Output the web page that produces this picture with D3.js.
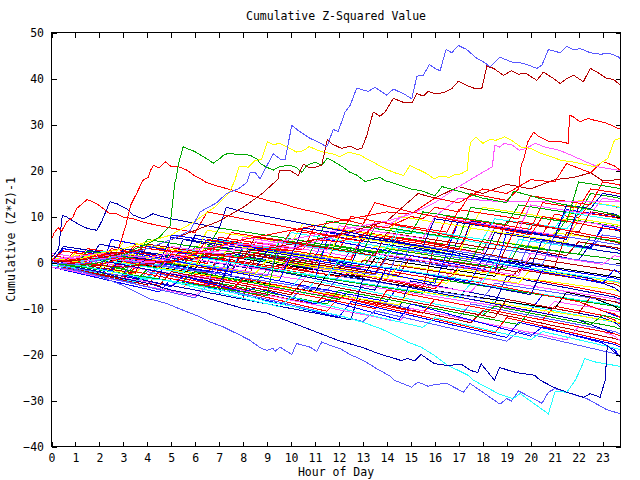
<!DOCTYPE html>
<html><head><meta charset="utf-8">
<script src="https://cdn.jsdelivr.net/npm/d3@7"></script>
<style>
body{margin:0;background:#fff}
svg{display:block}
text{font-family:"DejaVu Sans Mono",monospace;font-size:11.5px;fill:#000}
</style>
</head><body>
<svg id="chart" width="640" height="480"></svg>
<script>
const title = "Cumulative Z-Squared Value";
const xLabel = "Hour of Day";
const yLabel = "Cumulative (Z*Z)-1";
const xTicks = [0,1,2,3,4,5,6,7,8,9,10,11,12,13,14,15,16,17,18,19,20,21,22,23];
const yTicks = [-40,-30,-20,-10,0,10,20,30,40,50];
const halfHours = [0,0.5,1,1.5,2,2.5,3,3.5,4,4.5,5,5.5,6,6.5,7,7.5,8,8.5,9,9.5,10,10.5,11,11.5,12,12.5,13,13.5,14,14.5,15,15.5,16,16.5,17,17.5,18,18.5,19,19.5,20,20.5,21,21.5,22,22.5,23,23.5,23.75];

// half-hourly series (values read/estimated from the picture)
const m01 = [1,0.6,0.2,1.5,1.1,0.7,0.3,-0.2,-0.6,-1, 2.5,2.1,1.6,1.2,0.8,0.3,-0.1,-0.5,-1,-1.4, -1.9,-2.3,0.8,0.4,0,-0.5,-0.9,-1.3,-1.8,-2.2, -2.7,-3.1,-3.6,-4,-1,-1.4,-1.9,-2.3,-2.8,-3.2, -3.7,-4.1,-4.6,-5,-5.5,-6,-6.5,-7,-7.5];
const m02 = [0,-0.4,-0.8,-1.2,2,1.6,1.2,0.8,0.4,0, -0.4,-0.8,3.5,3.1,2.7,2.3,1.9,1.5,1.1,0.7, 0.3,-0.1,-0.5,4,3.6,3.2,2.8,2.4,2,5.5, 5.1,4.7,4.3,3.9,3.5,3.1,2.7,7.5,7.1,6.7, 6.3,5.9,5.5,9.5,9.1,8.7,8.3,7.9,7.6];
const m03 = [-0.5,-1,-1.5,-2,-2.5,-1,-1.5,-2,-2.5,-3, -3.5,-4,-4.5,-5,-1.5,-2,-2.5,-3,-3.5,-4, -4.5,-5,-5.5,-6,-6.5,-7,-7.5,-8,-8.5,-5, -5.5,-6,-6.5,-7,-7.5,-8,-8.5,-9,-9.5,-10, -10.5,-7,-7.5,-8,-8.5,-9.5,-10.5,-11.5,-12];
const m04 = [1,0.7,0.3,0,-0.4,-0.8,-1.1,2.5,2.1,1.8, 1.4,1,0.6,0.3,-0.1,-0.5,-0.9,-1.2,-1.6,-2, 1.8,1.4,1,0.7,0.3,-0.1,-0.5,-0.8,-1.2,-1.6, -2,-2.3,-2.7,-3,0.5,0.1,-0.3,-0.6,-1,-1.4, -1.8,-2.1,-2.5,-2.8,-3.2,-3.5,-3.9,-4.2,-4.4];
const m05 = [0.5,0,-0.5,-1,-1.5,-2,-2.5,-3,-3.5,-1, -1.5,-2,-2.5,-3,-3.5,-4,-4.5,-5,-5.5,-6, -6.5,-7,-4,-4.5,-5,-5.5,-6,-6.5,-7,-7.5, -8,-8.5,-9,-9.5,-10,-10.5,-11,-8,-8.5,-9, -9.5,-10,-10.5,-11,-11.5,-12,-12.5,-13,-13.5];
const m06 = [-0.5,-0.8,1.5,1.2,0.8,0.5,0.1,-0.2,-0.6,2.2, 1.9,1.5,1.2,0.8,0.5,4,3.6,3.3,2.9,2.6, 2.2,1.9,1.5,1.2,0.8,0.5,0.1,3.5,3.2,2.8, 2.5,2.1,1.8,1.4,1.1,0.7,5,4.6,4.3,3.9, 3.6,3.2,6.5,6.1,5.8,5.4,5.1,4.7,4.5];
const m07 = [0,-0.4,-0.8,-1.2,-1.6,-2,0.5,0.1,-0.3,-0.7, -1.1,-1.5,-1.9,-2.3,1,0.6,0.2,-0.2,-0.6,-1, -1.4,-1.8,-2.2,-2.6,-3,-3.4,0.5,0.1,-0.3,-0.7, -1.1,-1.5,-1.9,-2.3,-2.7,-3.1,-3.5,-3.9,-4.3,-1.5, -1.9,-2.3,-2.7,-3.1,-3.5,-3.9,-4.3,-4.7,-5.2];
const m08 = [0,-0.5,-1,2.5,2,1.5,1,0.5,0,-0.5, -1,5,4.5,4,3.5,3,2.5,2,1.5,1, 0.5,0,-0.5,-1,-1.5,3,2.5,2,1.5,1, 0.5,0,-0.5,-1,5.5,5,4.5,4,3.5,3, 2.5,2,1.5,1,0.5,4,3.5,3,2.5];
const m09 = [-1,-1.5,-2,-2.5,-3,-3.5,-4,-4.5,-2,-2.5, -3,-3.5,-4,-4.5,-5,-5.5,-6,-6.5,-7,-7.5, -8,-5.5,-6,-6.5,-7,-7.5,-8,-8.5,-9,-9.5, -10,-10.5,-11,-11.5,-12,-9,-9.5,-10,-10.5,-11, -11.5,-12,-12.5,-13,-13.5,-14,-14.5,-15,-15.5];
const m10 = [0.5,0.1,-0.3,-0.7,-1.1,1.5,1.1,0.7,0.3,-0.1, -0.5,-0.9,-1.3,2,1.6,1.2,0.8,0.4,0,-0.4, -0.8,-1.2,-1.6,-2,-2.4,-2.8,-3.2,1,0.6,0.2, -0.2,-0.6,-1,-1.4,-1.8,-2.2,-2.6,-3,0.5,0.1, -0.3,-0.7,-1.1,-1.5,-1.9,-2.3,-2.7,-3.1,-3.4];
const m11 = [1.5,1.1,0.7,3,2.6,2.2,1.8,1.4,5,4.6, 4.2,3.8,3.4,3,2.6,6.5,6.1,5.7,5.3,4.9, 4.5,4.1,3.7,3.3,2.9,7,6.6,6.2,5.8,5.4, 5,4.6,4.2,3.8,9,8.6,8.2,7.8,7.4,7, 6.6,6.2,10.5,10.1,9.7,13,12.6,12.2,11.8];
const m12 = [-0.5,-1,-1.4,-1.8,-2.2,-2.6,-3,-0.5,-0.9,-1.3, -1.7,-2.1,-2.5,-2.9,-3.3,-3.7,-4.1,-4.5,-1.5,-1.9, -2.3,-2.7,-3.1,-3.5,-3.9,-4.3,-4.7,-5.1,-5.5,-5.9, -6.3,-6.7,-3.5,-3.9,-4.3,-4.7,-5.1,-5.5,-5.9,-6.3, -6.7,-7.1,-7.5,-7.9,-8.3,-8.7,-9.1,-9.5,-9.8];
const m13 = [0,-0.4,-0.8,-1.2,-1.6,-2,-2.4,-2.8,-3.2,-3.6, 6,5.6,5.2,4.8,4.4,4,3.6,3.2,2.8,2.4, 2,1.6,1.2,6.5,6.1,5.7,5.3,4.9,4.5,4.1, 3.7,3.3,2.9,2.5,9,8.6,8.2,7.8,7.4,7, 6.6,6.2,5.8,11.5,11.1,10.7,10.3,9.9,9.6];
const m14 = [-1,-1.4,-1.8,-2.2,-2.6,-3,-3.4,-3.8,-4.2,-4.6, -5,-2.5,-2.9,-3.3,-3.7,-4.1,-4.5,-4.9,-5.3,-5.7, -6.1,-6.5,-6.9,-7.3,-7.7,-8.1,-5,-5.4,-5.8,-6.2, -6.6,-7,-7.4,-7.8,-8.2,-8.6,-9,-9.4,-9.8,-10.2, -10.6,-11,-8.5,-8.9,-9.3,-9.7,-10.1,-10.5,-10.8];
const m15 = [0.5,0.2,-0.2,-0.5,2.5,2.2,1.8,1.5,1.1,0.8, 0.4,0.1,-0.3,-0.6,-1,-1.3,3,2.7,2.3,2, 1.6,1.3,0.9,0.6,0.2,-0.1,-0.5,-0.8,3.5,3.2, 2.8,2.5,2.1,1.8,1.4,1.1,0.7,0.4,0,5, 4.6,4.3,3.9,3.6,3.2,2.9,2.5,2.2,1.9];
const m16 = [0,-0.3,-0.7,-1,-1.4,-1.7,-2.1,-2.4,0.5,0.2, -0.2,-0.5,-0.9,-1.2,-1.6,-1.9,-2.3,-2.6,-3,-3.3, 0,-0.3,-0.7,-1,-1.4,-1.7,-2.1,-2.4,-2.8,-3.1, -3.5,-3.8,-4.2,-4.5,-1.5,-1.8,-2.2,-2.5,-2.9,-3.2, -3.6,-3.9,-4.3,-4.6,-5,-5.3,-5.7,-6,-6.3];
const m17 = [-0.5,-1,-1.6,-2.1,-2.7,-3.2,-3.8,-4.3,-4.9,-2, -2.5,-3.1,-3.6,-4.2,-4.7,-5.3,-5.8,-6.4,-6.9,-7.5, -8,-8.6,-9.1,-6.5,-7,-7.6,-8.1,-8.7,-9.2,-9.8, -10.3,-10.9,-11.4,-12,-12.5,-13.1,-10.5,-11,-11.6,-12.1, -12.7,-13.2,-13.8,-14.3,-14.9,-15.4,-16,-16.5,-17];
const m18 = [0,-0.5,-1,-1.5,-2,-2.5,-3,-3.5,-4,-4.5, -5,-5.5,-6,-6.5,-7,2,1.5,1,0.5,0, -0.5,-1,-1.5,-2,-2.5,-3,-3.5,-4,-4.5,-5, -5.5,-6,-6.5,-7,-7.5,-8,-8.5,-9,-3,-3.5, -4,-4.5,-5,-5.5,-6,-6.5,-7,-7.5,-8];
const m19 = [-1,-1.3,-1.7,-2,1,0.7,0.3,0,-0.4,-0.7, -1.1,-1.4,-1.8,-2.1,-2.5,1.5,1.2,0.8,0.5,0.1, -0.2,-0.6,-0.9,-1.3,-1.6,-2,-2.3,-2.7,1,0.7, 0.3,0,-0.4,-0.7,-1.1,-1.4,-1.8,3,2.7,2.3, 2,1.6,1.3,0.9,0.6,0.2,-0.1,-0.5,-0.7];
const m20 = [0.5,0.1,2.5,2.1,1.7,1.3,0.9,4,3.6,3.2, 2.8,2.4,2,1.6,5.5,5.1,4.7,4.3,3.9,3.5, 3.1,2.7,8,7.6,7.2,6.8,6.4,6,5.6,5.2, 4.8,4.4,4,10,9.6,9.2,8.8,8.4,8,7.6, 7.2,13,12.6,12.2,11.8,16,15.6,15.2,14.9];
const m21 = [0,-0.5,-1,-1.5,-2,-2.5,-3,-3.5,-4,-4.5, -5,-5.5,-2.5,-3,-3.5,-4,-4.5,-5,-5.5,-6, -6.5,-7,-7.5,-8,-8.5,-9,-9.5,-10,-6,-6.5, -7,-7.5,-8,-8.5,-9,-9.5,-10,-10.5,-11,-11.5, -12,-12.5,-9.5,-10,-10.5,-11,-11.5,-12.5,-13.5];
const m22 = [0,-0.3,-0.7,-1,-1.4,1.5,1.2,0.8,0.5,0.1, -0.2,-0.6,-0.9,3.5,3.2,2.8,2.5,2.1,1.8,1.4, 1.1,0.7,0.4,0,-0.3,-0.7,-1,2.5,2.2,1.8, 1.5,1.1,0.8,0.4,0.1,-0.3,-0.6,-1,-1.3,3.5, 3.2,2.8,2.5,2.1,1.8,1.4,1.1,0.7,0.5];
const m23 = [-1,-1.6,-2.2,-2.8,-3.4,-4,-4.6,-5.2,-5.8,-6.4, -3.5,-4.1,-4.7,-5.3,-5.9,-6.5,-7.1,-7.7,-8.3,-8.9, -9.5,-10.1,-10.7,-11.3,-11.9,-8.5,-9.1,-9.7,-10.3,-10.9, -11.5,-12.1,-12.7,-13.3,-13.9,-14.5,-15.1,-15.7,-16.3,-13, -13.6,-14.2,-14.8,-15.4,-16,-16.6,-17.2,-17.8,-18.4];
const m24 = [2,1.6,1.2,0.8,0.4,0,3,2.6,2.2,1.8, 1.4,1,0.6,0.2,-0.2,-0.6,-1,4.5,4.1,3.7, 3.3,2.9,2.5,2.1,1.7,1.3,6,5.6,5.2,4.8, 4.4,4,3.6,3.2,2.8,2.4,2,8,7.6,7.2, 6.8,6.4,6,5.6,9,8.6,8.2,7.8,7.5];
const m25 = [-0.5,-0.9,-1.3,-1.7,-2.1,-2.5,-2.9,-3.3,-3.7,-1, -1.4,-1.8,-2.2,-2.6,-3,-3.4,-3.8,-4.2,-4.6,-5, -5.4,-2.5,-2.9,-3.3,-3.7,-4.1,-4.5,-4.9,-5.3,-5.7, -6.1,-6.5,-6.9,-7.3,-7.7,-4.5,-4.9,-5.3,-5.7,-6.1, -6.5,-6.9,-7.3,-7.7,-8.1,-8.5,-8.9,-9.3,-9.6];
const m26 = [0,-0.4,2,1.6,1.2,0.8,4.5,4.1,3.7,3.3, 2.9,2.5,2.1,7,6.6,6.2,5.8,5.4,5,4.6, 4.2,8.5,8.1,7.7,7.3,6.9,6.5,6.1,5.7,10, 9.6,9.2,8.8,8.4,8,7.6,12,11.6,11.2,10.8, 10.4,10,9.6,9.2,13.5,13.1,12.7,12.3,12];
const m27 = [0.5,0.1,-0.3,-0.7,-1.1,-1.5,1.5,1.1,0.7,0.3, -0.1,-0.5,-0.9,-1.3,-1.7,-2.1,-2.5,2,1.6,1.2, 0.8,0.4,0,-0.4,-0.8,-1.2,-1.6,-2,-2.4,-2.8, 1.5,1.1,0.7,0.3,-0.1,-0.5,-0.9,-1.3,-1.7,-2.1, 1,0.6,0.2,-0.2,-0.6,-1,-1.4,-1.8,-2.1];
const m28 = [0.5,0,-0.5,-1,-1.5,-2,-2.5,1,0.5,0, -0.5,-1,-1.5,-2,-2.5,-3,-3.5,-4,-4.5,-5, -5.5,-6,-6.5,-7,-7.5,-8,-8.5,-9,-9.5,-10, -4,-4.5,-5,-5.5,-6,-6.5,-7,-7.5,-8,-8.5, -9,-9.5,-10,-10.5,-11,-11.5,-12,-13,-14];
const m29 = [0,-0.4,-0.8,-1.2,-1.6,-2,-2.4,-2.8,-3.2,-3.6, -4,-4.4,-4.8,-5.2,2,1.6,1.2,0.8,0.4,0, -0.4,-0.8,-1.2,-1.6,-2,-2.4,-2.8,-3.2,-3.6,3, 2.6,2.2,1.8,1.4,1,0.6,0.2,-0.2,-0.6,-1, 5,4.6,4.2,3.8,3.4,3,6,5.6,5.3];
const m30 = [-0.5,-1,-1.4,-1.8,-2.2,0.5,0.1,-0.3,-0.7,-1.1, -1.5,-1.9,-2.3,-2.7,-3.1,-3.5,-3.9,-4.3,-4.7,-5.1, -5.5,-5.9,-6.3,-2.5,-2.9,-3.3,-3.7,-4.1,-4.5,-4.9, -5.3,-5.7,-6.1,-6.5,-6.9,-7.3,-7.7,-8.1,-8.5,-8.9, -9.3,-9.7,-10.1,-6.5,-7,-7.5,-8.5,-9.5,-10.5];
const m31 = [1,0.6,0.2,-0.2,-0.6,3,2.6,2.2,1.8,1.4, 1,0.6,0.2,-0.2,5,4.6,4.2,3.8,3.4,3, 2.6,2.2,1.8,1.4,1,0.6,6,5.6,5.2,4.8, 4.4,4,3.6,3.2,2.8,8.5,8.1,7.7,7.3,6.9, 6.5,6.1,5.7,5.3,11,10.6,10.2,9.8,9.5];
const m32 = [-0.5,-1,-1.5,-2,-2.5,-3,-3.5,-4,-1.5,-2, -2.5,-3,-3.5,-4,-4.5,-5,-5.5,-6,-6.5,-7, -7.5,-8,-8.5,-9,-6,-6.5,-7,-7.5,-8,-8.5, -9,-9.5,-10,-10.5,-11,-11.5,-12,-12.5,-13,-13.5, -10.5,-11,-11.5,-12,-12.5,-13,-13.5,-14,-14.5];
const m33 = [0,3,2.6,2.2,1.8,1.4,1,0.6,0.2,-0.2, -0.6,-1,-1.4,-1.8,-2.2,-2.6,3.5,3.1,2.7,2.3, 1.9,1.5,1.1,0.7,0.3,-0.1,-0.5,-0.9,-1.3,-1.7, -2.1,-2.5,-2.9,-3.3,-3.7,-4.1,1,0.6,0.2,-0.2, -0.6,-1,-1.4,-1.8,-2.2,-2.6,-3,-3.4,-3.8];
const m34 = [-1,-1.5,-2,-2.6,-3.1,-3.6,-4.1,-4.7,-5.2,-5.7, -6.2,-6.8,-7.3,-4.5,-5,-5.5,-6.1,-6.6,-7.1,-7.6, -8.2,-8.7,-9.2,-9.7,-10.3,-10.8,-11.3,-11.8,-12.4,-12.9, -10,-10.5,-11,-11.5,-12.1,-12.6,-13.1,-13.6,-14.2,-14.7, -15.2,-15.7,-16.3,-16.8,-14,-14.5,-15,-16,-17];
const m35 = [0,-0.4,-0.8,-1.2,1.5,1.1,0.7,0.3,-0.1,-0.5, -0.9,3,2.6,2.2,1.8,1.4,1,0.6,0.2,4.5, 4.1,3.7,3.3,2.9,2.5,2.1,1.7,1.3,0.9,7, 6.6,6.2,5.8,5.4,5,4.6,4.2,3.8,3.4,3, 8.5,8.1,7.7,7.3,10.5,10.1,9.7,9.3,9];
const m36 = [-0.5,-0.9,-1.3,-1.7,-2.1,-2.5,0,-0.4,-0.8,-1.2, -1.6,-2,-2.4,-2.8,-3.2,-3.6,-4,-4.4,-4.8,-5.2, -5.6,-6,-6.4,-6.8,-7.2,-7.6,-8,-8.4,-8.8,-9.2, -6,-6.4,-6.8,-7.2,-7.6,-8,-8.4,-8.8,-9.2,-9.6, -10,-10.4,-10.8,-11.2,-11.6,-12,-12.4,-12.8,-13.1];
const m37 = [0,-0.5,-1,-1.5,-2,-2.5,-3,-3.5,-4,-4.5, -5,-5.5,-6,-6.5,-7,-7.5,-8,1.5,1,0.5, 0,-0.5,-1,-1.5,-2,-2.5,-3,-3.5,-4,-4.5, -5,-5.5,4,3.5,3,2.5,2,1.5,1,0.5, 0,-0.5,-1,6.5,6,5.5,5,4.5,4];
const m38 = [1,0.5,0,-0.5,4,3.5,3,2.5,2,1.5, 1,0.5,6,5.5,5,4.5,4,3.5,3,2.5, 2,1.5,1,0.5,0,-0.5,5.5,5,4.5,4, 3.5,3,2.5,2,1.5,9,8.5,8,7.5,7, 6.5,6,5.5,5,12,11.5,11,10.5,10];
const m39 = [0,-0.4,-0.8,-1.2,-1.6,-2,-2.4,-2.8,-3.2,-0.5, -0.9,-1.3,-1.7,-2.1,-2.5,-2.9,-3.3,-3.7,-4.1,-4.5, -4.9,-5.3,-5.7,-6.1,-3,-3.4,-3.8,-4.2,-4.6,-5, -5.4,-5.8,-6.2,-6.6,-7,-7.4,-7.8,-4.5,-4.9,-5.3, -5.7,-6.1,-6.5,-6.9,-7.3,-7.7,-8.1,-8.5,-8.7];
const m40 = [0.5,0.1,-0.3,2.5,2.1,1.7,1.3,0.9,5,4.6, 4.2,3.8,3.4,3,7.5,7.1,6.7,6.3,5.9,5.5, 5.1,4.7,4.3,9,8.6,8.2,7.8,7.4,7,6.6, 6.2,11,10.6,10.2,9.8,9.4,9,8.6,8.2,12.5, 12.1,11.7,11.3,10.9,10.5,15,14.6,14.2,13.9];
const m41 = [0,-0.6,-1.2,-1.8,-2.4,-3,-3.6,-1,-1.6,-2.2, -2.8,-3.4,-4,-4.6,-5.2,-5.8,-6.4,-7,-7.6,-8.2, -8.8,-9.4,-10,-10.6,-7.5,-8.1,-8.7,-9.3,-9.9,-10.5, -11.1,-11.7,-12.3,-12.9,-13.5,-14.1,-14.7,-15.3,-12,-12.6, -13.2,-13.8,-14.4,-15,-15.6,-16.2,-16.8,-17.4,-18];
const m42 = [0,-0.4,-0.8,-1.2,-1.6,-2,3,2.6,2.2,1.8, 1.4,1,0.6,0.2,-0.2,-0.6,-1,-1.4,2.5,2.1, 1.7,1.3,0.9,0.5,5.5,5.1,4.7,4.3,3.9,3.5, 3.1,2.7,2.3,1.9,1.5,1.1,0.7,6.5,6.1,5.7, 5.3,4.9,4.5,4.1,3.7,3.3,7.5,7.1,6.8];
const m43 = [0,-0.7,-1.3,-2,-1.2,-1.9,-2.6,-3.3,-4,-4.6, -5.3,-3,-3.7,-4.4,-5,-5.7,-6.4,-5.5,-6.2,-6.9, -7.6,-8.3,-9,-8.2,-8.9,-9.6,-10.3,-11,-11.7,-12.4, -9,-9.7,-10.4,-11.1,-11.8,-12.5,-13.2,-13.9,-14.6,-15.3, -16,-14,-14.7,-15.4,-16.1,-16.8,-17.5,-19,-20.5];
const m44 = [0.5,0,0.6,0.1,-0.4,-0.9,0.2,-0.3,-0.8,-1.3, 1.8,1.3,0.8,1.2,0.7,0.2,-0.3,-0.8,-1.3,-0.6, -1.1,-1.6,-2.1,-2.6,-3.1,-2.2,-2.7,-3.2,-3.7,-4.2, -4.7,-5.2,-5.7,-3,-3.5,-4,-4.5,-5,-5.5,-6, -6.5,-7,-7.5,-8,-8.5,-9.5,-10.5,-11.2,-12];
const m45 = [0,-0.4,0.3,-0.1,-0.5,-0.9,-1.3,-0.5,-0.9,-1.3, 2.5,2.1,1.7,1.3,0.9,1.6,1.2,0.8,0.4,0, -0.4,-0.8,4.2,3.8,3.4,3,2.6,2.2,3,2.6, 2.2,1.8,1.4,1,0.6,0.2,5,4.6,4.2,3.8, 3.4,3,2.6,2.2,1.8,5.5,5.1,4.7,4.3];
const m46 = [0.5,1.2,0.8,0.4,0,-0.4,-0.8,-1.2,-1.6,-2, -2.4,-2.8,-3.2,-3.6,-1,-1.4,-1.8,-2.2,-2.6,-3, -3.4,-3.8,-1.2,-1.6,-2,-2.4,-2.8,-3.2,-3.6,-4, -4.4,-4.8,-5.2,-5.6,-6,-6.4,-3.5,-3.9,-4.3,-4.7, -5.1,-5.5,-5.9,-6.3,-6.7,-7.1,-7.5,-7.9,-8.2];
const m47 = [0,-0.4,-0.8,1.5,1.1,0.7,0.3,3.5,3.1,2.7, 2.3,1.9,1.5,1.1,4.8,4.4,4,3.6,3.2,2.8, 6.5,6.1,5.7,5.3,4.9,4.5,4.1,3.7,3.3,7.8, 7.4,7,6.6,6.2,5.8,5.4,5,9.5,9.1,8.7, 8.3,7.9,7.5,11,10.6,13,12.6,12.2,11.9];
const m48 = [0,-0.5,-1,-1.5,-2,-2.5,-3,-3.5,-4,-4.5, -5,-5.5,-6,-6.5,-7,-7.5,-8,-8.5,-9,-9.5, -10,-10.5,-11,-11.5,-12,-12.5,-3.5,-4,-4.5,-5, -5.5,-6,-6.5,-7,-7.5,-8,-8.5,-9,-9.5,-10, -10.5,-11,-11.5,-12,-12.5,-13.5,-14.5,-15.5,-16];
const m49 = [0,0.5,0.1,-0.3,-0.7,2.3,1.9,1.5,1.1,0.7, 0.3,-0.1,-0.5,-0.9,-1.3,-1.7,2,1.6,1.2,0.8, 0.4,0,-0.4,-0.8,-1.2,-1.6,-2,-2.4,1.5,1.1, 0.7,0.3,-0.1,-0.5,-0.9,-1.3,-1.7,-2.1,3.5,3.1, 2.7,2.3,1.9,1.5,4.5,4.1,3.7,3.3,3];
const m50 = [1,0.6,0.2,-0.2,-0.6,-1,2,1.6,1.2,0.8, 0.4,0,-0.4,-0.8,-1.2,-1.6,-2,-2.4,0.5,0.1, -0.3,-0.7,-1.1,-1.5,-1.9,-2.3,-2.7,-3.1,-3.5,-0.5, -0.9,-1.3,-1.7,-2.1,-2.5,-2.9,-3.3,-3.7,-4.1,-4.5, -1.5,-1.9,-2.3,-2.7,-3.1,-3.5,-3.9,-4.3,-4.6];
const m51 = [-0.5,-1.1,-1.7,-2.3,-2.9,-3.5,-4.1,-4.7,-5.3,-5.9, -6.5,-7.1,-7.7,-5,-5.6,-6.2,-6.8,-7.4,-8,-8.6, -9.2,-9.8,-10.4,-11,-11.6,-12.2,-12.8,-10.5,-11.1,-11.7, -12.3,-12.9,-13.5,-14.1,-14.7,-15.3,-15.9,-16.5,-17.1,-15, -15.6,-16.2,-16.8,-17.4,-18,-18.6,-19.2,-19.8,-20.2];
const m52 = [0.5,2.5,2.1,1.7,1.3,0.9,0.5,3.5,3.1,2.7, 2.3,1.9,1.5,5,4.6,4.2,3.8,3.4,3,2.6, 7,6.6,6.2,5.8,5.4,5,4.6,9,8.6,8.2, 7.8,7.4,7,6.6,11.5,11.1,10.7,10.3,9.9,9.5, 14.5,14.1,13.7,13.3,12.9,12.5,17.5,17.1,16.8];
const m53 = [0,-0.5,-1,-1.5,-0.5,-1,-1.5,-2,-2.5,-3, -3.5,-4,-2,-2.5,-3,-3.5,-4,-4.5,-5,-5.5, -6,-6.5,-7,-7.5,-8,-6,-6.5,-7,-7.5,-8, -8.5,-9,-9.5,-10,-10.5,-11,-11.5,-9.5,-10,-10.5, -11,-11.5,-12,-12.5,-13,-13.5,-11.5,-12,-12.5];
const m54 = [0,-0.5,-1,-1.5,-2,5,4.5,4,3.5,3, 2.5,2,1.5,1,0.5,0,-0.5,-1,-1.5,-2, -2.5,-3,-3.5,5,4.5,4,3.5,3,2.5,2, 1.5,1,0.5,0,-0.5,-1,-1.5,-2,6.5,6, 5.5,5,4.5,4,3.5,3,8,7.5,7];
const m55 = [0,-0.4,-0.8,1,0.6,0.2,-0.2,-0.6,-1,-1.4, 1.5,1.1,0.7,0.3,-0.1,-0.5,-0.9,-1.3,-1.7,-2.1, 1.2,0.8,0.4,0,-0.4,-0.8,-1.2,2,1.6,1.2, 0.8,0.4,0,-0.4,-0.8,-1.2,-1.6,-2,-2.4,-2.8, 2,1.6,1.2,0.8,0.4,0,-0.4,1.5,1.2];
const m56 = [0,-0.6,-1.2,-1.8,-2.4,-3,-3.6,-4.2,-3,-3.6, -4.2,-4.8,-5.4,-6,-6.6,-7.2,-7.8,-8.4,-9,-9.6, -7.5,-8.1,-8.7,-9.3,-9.9,-10.5,-11.1,-11.7,-12.3,-12.9, -13.5,-14.1,-12,-12.6,-13.2,-13.8,-14.4,-15,-15.6,-16.2, -16.8,-15,-15.6,-16.2,-16.8,-17.4,-18,-18.6,-19];
const m57 = [0.5,0.1,-0.3,-0.7,-1.1,-1.5,-1.9,-2.3,4,3.6, 3.2,2.8,2.4,2,1.6,1.2,0.8,5.5,5.1,4.7, 4.3,3.9,3.5,3.1,2.7,2.3,1.9,1.5,6.5,6.1, 5.7,5.3,4.9,4.5,4.1,3.7,3.3,2.9,9,8.6, 8.2,7.8,7.4,7,6.6,11,10.6,10.2,9.9];
const m58 = [-0.5,-1,-1.5,1,0.5,0,-0.5,-1,-1.5,-2, -2.5,-3,-3.5,-4,-4.5,0,-0.5,-1,-1.5,-2, -2.5,-3,-3.5,-4,-4.5,-5,-5.5,-6,-1,-1.5, -2,-2.5,-3,-3.5,-4,-4.5,-5,-5.5,-6,-6.5, -7,-1.5,-2,-2.5,-3,-3.5,-4.5,-5.5,-6.5];
const m59 = [0,-0.4,-0.8,-1.2,-1.6,2,1.6,1.2,0.8,0.4, 0,-0.4,-0.8,4.5,4.1,3.7,3.3,2.9,2.5,2.1, 1.7,1.3,0.9,0.5,6,5.6,5.2,4.8,4.4,4, 3.6,3.2,2.8,2.4,2,7.5,7.1,6.7,6.3,5.9, 5.5,5.1,4.7,4.3,9.5,9.1,8.7,8.3,8];
const m60 = [0,-0.5,-1,-1.5,-2,-2.5,-3,-2,-2.5,-3, -3.5,-4,-4.5,-5,-5.5,-6,-3.5,-4,-4.5,-5, -5.5,-6,-6.5,-7,-7.5,-8,-8.5,-9,-9.5,-10, -10.5,-11,-8,-8.5,-9,-9.5,-10,-10.5,-11,-11.5, -12,-12.5,-13,-13.5,-14,-14.5,-15,-15.5,-16];
const m61 = [-0.5,-0.9,-1.3,-1.7,-2.1,-2.5,-2.9,1.5,1.1,0.7, 0.3,-0.1,-0.5,-0.9,-1.3,-1.7,-2.1,-2.5,-2.9,2.5, 2.1,1.7,1.3,0.9,0.5,0.1,-0.3,-0.7,-1.1,-1.5, 4,3.6,3.2,2.8,2.4,2,1.6,1.2,0.8,0.4, 0,-0.4,6,5.6,5.2,4.8,4.4,4,3.8];
const m62 = [0,-0.4,-0.8,-1.2,-1.6,-2,-2.4,-2.8,-3.2,-3.6, -4,-4.4,-4.8,-5.2,-5.6,-6,-6.4,-6.8,-7.2,5, 4.6,4.2,3.8,3.4,3,2.6,2.2,8,7.6,7.2, 6.8,6.4,6,5.6,5.2,12,11.6,11.2,10.8,10.4, 10,9.6,9.2,8.8,17.5,17.1,16.7,16.3,16];
const m63 = [-0.5,-1,-1.5,-2,-2.5,-3,-3.5,-4,-4.5,-5, -2,-2.5,-3,-3.5,-4,-4.5,-5,-5.5,-6,-6.5, -7,-4,-4.5,-5,-5.5,-6,-6.5,-7,-7.5,-8, -8.5,-9,-9.5,-10,-10.5,-11,-11.5,-12,-8,-8.5, -9,-9.5,-10,-10.5,-11,-7.5,-8,-8.5,-9];
const m64 = [0.5,0,-0.5,-1,-1.5,-2,2.5,2,1.5,1, 0.5,0,-0.5,-1,-1.5,-2,-2.5,-3,-3.5,-4, 1.5,1,0.5,0,-0.5,-1,-1.5,-2,-2.5,-3, -3.5,-4,-4.5,2,1.5,1,0.5,0,-0.5,-1, -1.5,-2,-2.5,-3,-3.5,-4,-4.5,-1.5,-2.5];
const m65 = [0.5,0.1,-0.3,-0.7,1.8,1.4,1,0.6,0.2,-0.2, 3.5,3.1,2.7,2.3,1.9,1.5,5.5,5.1,4.7,4.3, 3.9,3.5,3.1,2.7,8,7.6,7.2,6.8,6.4,6, 5.6,5.2,10,9.6,9.2,8.8,8.4,8,7.6,7.2, 12.5,12.1,11.7,11.3,10.9,10.5,14,13.6,13.3];
const m66 = [-0.5,-0.9,-1.3,1,0.6,0.2,-0.2,-0.6,-1,-1.4, -1.8,-2.2,1.2,0.8,0.4,0,-0.4,-0.8,-1.2,-1.6, -2,-2.4,-2.8,-3.2,0.5,0.1,-0.3,-0.7,-1.1,-1.5, -1.9,-2.3,-2.7,-3.1,-3.5,-3.9,-4.3,0,-0.4,-0.8, -1.2,-1.6,-2,-2.4,-2.8,-3.2,-3.6,-4,-4.3];
const m67 = [0,3.5,3.1,2.7,2.3,1.9,1.5,1.1,0.7,0.3, 5.5,5.1,4.7,4.3,3.9,3.5,3.1,2.7,2.3,1.9, 1.5,7.5,7.1,6.7,6.3,5.9,5.5,5.1,4.7,4.3, 3.9,3.5,9.5,9.1,8.7,8.3,7.9,7.5,7.1,6.7, 6.3,5.9,5.5,12.5,12.1,11.7,15,14.6,14.2];

// traced series: [hour, value]
const t01 = [[0,0],[1,-0.5],[2,0.5],[3,1.5],[4,3],[5,5],[5.8,7],[6.2,11],[6.9,13],[7.3,15],[7.8,16],[8.15,17.4],[8.29,19.6],[8.5,19.6],[8.7,18.2],[8.91,20.3],[9.26,23.6],[9.54,22.5],[9.75,22.4],[10.03,29.8],[10.3,28.7],[10.79,27],[11.21,26],[11.49,25.1],[11.76,28.9],[11.97,28.5],[12.25,32.7],[12.46,34.1],[12.74,37.9],[13.22,37.2],[13.5,38.1],[13.99,36.4],[14.27,37.7],[14.69,36.7],[15.04,35.6],[15.25,40.5],[15.52,40.7],[15.77,43],[16.08,42],[16.22,41.7],[16.47,46.3],[16.71,45.6],[16.98,47.2],[17.33,46.3],[17.75,44.4],[18.1,43.4],[18.3,42.5],[18.72,44.6],[19.21,43.6],[19.7,43.3],[20.26,42.2],[20.47,42.9],[20.74,46.3],[21.23,45.6],[21.51,47],[21.79,46.2],[22.07,46.5],[22.49,45.6],[22.9,45.3],[23.32,45.4],[23.67,44.7],[23.75,44.1]];
const t02 = [[0,0],[1,0.5],[2,1],[3,2],[4,3],[5,5],[6,7],[7,9],[8,12],[8.8,15],[9.47,18.2],[9.51,20],[9.95,20],[10.3,18.9],[10.51,21.4],[10.72,20.7],[11,20.7],[11.28,21.2],[11.51,26.7],[11.7,25.8],[12.11,24.8],[12.46,25.3],[12.74,24.6],[12.95,24.8],[13.16,27.6],[13.43,32.7],[13.71,31.8],[13.92,32.7],[14.27,35.7],[14.69,34.8],[15.04,34.7],[15.25,36.7],[15.52,36.2],[15.73,37.2],[16.01,36.7],[16.36,36.9],[16.71,37.8],[16.98,39.4],[17.33,38.5],[17.68,37.8],[17.96,37.8],[18.17,42.7],[18.45,42.2],[18.86,40.7],[19.21,41.7],[19.49,40.9],[19.77,41.2],[20.26,39.6],[20.53,41.4],[20.95,40],[21.23,38.9],[21.51,40],[21.79,40.7],[22.2,39.3],[22.49,42.2],[22.77,41.4],[23.18,40],[23.46,39.8],[23.75,38.5]];
const t03 = [[0,0],[0.5,-0.5],[1,-1],[1.5,-0.5],[2,0],[2.5,1],[3,1.5],[3.5,3],[4,4],[4.5,5.5],[4.95,8],[5.15,17.4],[5.2,18.2],[5.3,21.4],[5.4,23.3],[5.5,25.2],[5.68,24.7],[5.95,24.2],[6.3,23.1],[6.5,22.5],[6.75,21.6],[7,22.5],[7.2,23.4],[7.42,23.8],[7.7,23.5],[8.04,23.5],[8.3,23.3],[8.6,22.4],[8.7,21.6],[8.98,20.7],[9.26,20.1],[9.54,20.9],[9.95,21.1],[10.24,20.6],[10.45,19.6],[10.65,21.1],[11,21.8],[11.28,21.1],[11.51,22.7],[11.83,21.8],[12.18,20.7],[12.46,19.6],[12.74,19],[13.09,17.6],[13.71,18.5],[13.92,17.8],[14.2,17.4],[15,16],[15.5,15.5],[16,14.5],[16.3,16.5],[17,15.5],[18,14],[19,13],[19.3,15.5],[20,14.5],[21,13],[22,12],[22.5,11.5],[23,11],[23.75,10]];
const t04 = [[0,0],[1,0.5],[2,2],[3,3],[4,4.5],[5,6],[6,9],[6.8,12],[7.4,15],[7.65,17.8],[7.83,20.9],[8.07,20.9],[8.22,20.7],[8.5,22.2],[8.77,22.4],[9.01,26.3],[9.26,25.6],[9.51,25.9],[9.82,25.1],[10.24,24],[10.51,24.3],[10.76,25.2],[11.07,24.5],[11.35,24],[11.76,23.6],[12.04,23],[12.39,24],[12.88,23.4],[13.16,22.5],[13.43,21.8],[13.85,20.6],[14.27,19.6],[14.69,18.9],[14.97,21.1],[15.32,20.2],[15.67,19.3],[15.97,18.2],[16.22,18.8],[16.6,18.5],[16.8,19],[17.1,19.3],[17.35,20],[17.44,24.8],[17.51,26.2],[17.72,27.3],[18,25.9],[18.28,26.7],[18.56,26.6],[18.91,27.3],[19.19,26.6],[19.6,25.1],[20.02,24.8],[20.44,23.7],[20.86,23],[21.28,22.2],[21.7,21.9],[22.11,21.5],[22.67,20.8],[23.22,22.6],[23.5,26.6],[23.75,27]];
const t05 = [[0,0],[1,0.5],[2,1.5],[2.8,3],[3.1,8],[3.3,12.4],[3.6,15.5],[3.8,17.8],[4.03,18.5],[4.15,20.2],[4.26,21.1],[4.49,20.6],[4.75,21.9],[4.98,20.9],[5.26,20.9],[5.47,20.5],[5.68,20],[5.96,18.9],[6.24,18.2],[6.45,17.4],[7,16.5],[7.5,15.8],[8,15],[8.5,14.3],[9,13.5],[9.5,13],[10,12.2],[10.5,11.5],[11,11],[11.5,10.3],[12,9.5],[12.5,9],[13,8.3],[13.5,13],[14,12.3],[15,11],[16,10],[17,9],[18,8],[19,7],[20,6],[20.5,10],[21,9.5],[22,8.5],[23,7.5],[23.75,7]];
const t06 = [[0,5],[0.11,6.4],[0.28,7.6],[0.42,6.8],[0.63,8.8],[0.9,9.9],[1.04,11.7],[1.49,13.7],[1.88,12.8],[2.44,10.6],[2.72,10.6],[2.99,9.9],[3.41,9.5],[3.83,8.8],[4.39,8.1],[5,7.5],[5.5,7],[6,6.5],[6.5,11],[7,10.5],[8,9.5],[9,8.5],[10,7.5],[11,6.5],[12,5.5],[12.5,10],[13,9.5],[14,8.5],[15,7.5],[16,6.5],[17,5.5],[18,4.5],[19,3.5],[19.5,9],[20,8.5],[21,7.5],[22,6.5],[23,5.5],[23.75,5]];
const t07 = [[0,1],[0.3,3],[0.45,10.3],[0.63,9.9],[1.2,8.1],[1.5,7.4],[1.9,7],[2.1,9],[2.44,13.2],[2.72,12.8],[3.13,11.7],[3.41,10.3],[3.83,9.5],[4.24,10.6],[4.6,10],[5,9.5],[5.5,9],[6,8.5],[6.5,8],[7,7.5],[7.3,12],[8,11],[9,10],[10,9],[11,8],[12,7],[13,6],[14,5],[15,4],[16,3],[17,2],[18,1],[19,0],[20,-1],[20.5,5],[21,4.5],[22,3.5],[23,2.5],[23.75,2]];
const t08 = [[0,0.5],[1,0],[2,-0.5],[3,1],[4,0.5],[5,0],[6,2],[7,1.5],[8,1],[9,3],[10,2.5],[11,5],[12,4.5],[13,6],[13.5,8],[14,7.5],[15,10],[15.5,9.5],[16,12],[16.5,11.5],[17,11],[17.5,15],[18,14.5],[18.5,14],[19,13.5],[19.5,16],[19.6,21],[19.74,23],[19.88,26.2],[20.12,28.3],[20.37,27.3],[20.74,26.4],[21.14,26.4],[21.56,25.9],[21.63,32],[21.77,31.7],[22.05,30.6],[22.4,31.3],[22.68,30.9],[23.1,30.4],[23.38,29.8],[23.66,29.1],[23.75,29.3]];
const t09 = [[0,0],[2,1],[4,0],[6,2],[8,3],[10,5],[12,7],[14,9],[15,10.5],[16,13],[17,16.5],[17.8,19],[18.4,20.8],[18.5,25.5],[18.7,25.1],[18.9,25.9],[19.24,25.5],[19.52,24.4],[19.8,24.8],[20.2,25.9],[20.6,25.1],[21.2,24.4],[21.7,23.3],[22.3,21.9],[22.8,20.8],[23.75,20]];
const t10 = [[0,0.5],[2,2],[4,1],[6,3],[8,4],[10,3],[12,6],[14,8],[15,11],[16,10],[17,14],[18,13.5],[18.6,13.3],[23.75,13.3]];
const t11 = [[0,0],[2,1.5],[4,3],[6,2],[8,5],[10,7],[12,9],[14,11],[15,10.5],[16,14],[17,13],[18,16],[19,15],[20,18],[21,17.5],[21.5,21.5],[22,20.5],[22.5,19.5],[23,22],[23.5,21],[23.75,20]];
const t12 = [[0,0],[3,-1],[6,1],[9,3],[12,6],[14,9],[15.3,15],[16,14],[17,16.5],[18,15],[19,17],[20,16],[21,18],[21.8,18.5],[22.5,19.5],[23,17.8],[23.75,18]];
const t13 = [[0,0],[1,-1.5],[2,-3],[3,-5],[4.1,-7.9],[4.8,-8.9],[5.5,-10.4],[6.19,-11.8],[6.61,-12.9],[7.17,-14],[7.87,-15.8],[8.28,-16.9],[8.7,-18.5],[8.98,-19.1],[9.25,-18.7],[9.33,-19.3],[9.54,-18.4],[10.03,-20],[10.23,-17.6],[10.51,-18],[10.79,-18.4],[11.07,-19.3],[11.28,-17.3],[11.62,-18],[12.04,-18.7],[12.46,-20],[13.02,-21.3],[13.58,-23.1],[14.13,-24.7],[14.31,-25.6],[15.03,-27.1],[15.3,-26],[15.72,-26.9],[16,-26.5],[16.5,-26.3],[17.2,-28.2],[17.47,-26.3],[18.72,-30.8],[19,-29.6],[19.2,-30.1],[19.49,-27.9],[20.47,-30.6],[20.74,-28.2],[21.02,-27.4],[21.79,-28.7],[22.35,-29.6],[23.18,-32],[23.75,-32.9]];
const t14 = [[0,0],[1,-0.5],[2,-1.5],[3,-2.5],[4,-3.5],[5,-4],[6,-5],[7,-6],[8,-7],[9,-8.5],[10,-9.5],[11,-10.5],[12,-11.5],[13,-13],[13.75,-14.4],[14.31,-15.8],[14.87,-17.3],[15.43,-18.4],[15.98,-20.2],[16.54,-22.4],[16.96,-23.4],[17.38,-24.5],[17.61,-25.6],[18.72,-28.7],[19.28,-29.6],[19.56,-28.5],[20.74,-32.9],[21.02,-28],[21.51,-28.2],[21.86,-25.6],[22.1,-23],[22.25,-20.9],[22.67,-21.6],[23.22,-22.1],[23.75,-22.6]];
const t15 = [[0,0],[1,-1],[2,-2],[3,-3.5],[4,-4.5],[5,-6],[6,-7],[7,-8.5],[8,-10],[9,-11],[10,-13],[11,-15],[12,-17],[13,-18.5],[13.75,-20],[14.17,-20.6],[14.59,-21.3],[14.87,-20.9],[15.15,-21.4],[15.43,-20],[15.98,-22],[16.54,-22.4],[17.1,-22.1],[17.51,-23.5],[17.79,-23.9],[17.93,-22],[18.49,-25.6],[18.7,-22.8],[19.05,-23.4],[19.32,-23.8],[19.6,-24.1],[20.16,-24.5],[20.4,-25.6],[20.95,-27.1],[21.51,-28.2],[22.2,-29.3],[22.49,-28.5],[22.9,-29.3],[23.11,-25.6],[23.2,-18],[23.5,-19.5],[23.75,-20.5]];

// colours (style only)
const C = {red:"#ff0000", green:"#00a800", blue:"#0000ff", navy:"#0000b0", lblue:"#5858ff", magenta:"#ff55ff", cyan:"#22ffff", yellow:"#ffff00", dred:"#b40000", black:"#000000"};
const massData = [m01,m02,m03,m04,m05,m06,m07,m08,m09,m10,m11,m12,m13,m14,m15,m16,m17,m18,m19,m20,m21,m22,m23,m24,m25,m26,m27,m28,m29,m30,m31,m32,m33,m34,m35,m36,m37,m38,m39,m40,m41,m42,m43,m44,m45,m46,m47,m48,m49,m50,m51,m52,m53,m54,m55,m56,m57,m58,m59,m60,m61,m62,m63,m64,m65,m66,m67];
const massColors = ["red","green","blue","magenta","cyan","yellow","dred","navy","lblue","black","red","green","blue","magenta","cyan","yellow","dred","navy","lblue","red","red","green","blue","magenta","cyan","yellow","dred","navy","lblue","black","red","green","blue","magenta","cyan","yellow","dred","navy","lblue","green","red","navy",
  "blue","red","green","magenta","cyan","navy","dred","yellow","lblue","red","green","blue","magenta","cyan","dred","navy","yellow","red","lblue","green","dred","blue","magenta","cyan","navy"];
const tracedData = [t13,t14,t15,t10,t12,t11,t09,t07,t06,t05,t08,t04,t03,t02,t01];
const tracedColors = ["lblue","cyan","navy","magenta","dred","red","magenta","navy","red","red","red","yellow","green","dred","lblue"];

const svg = d3.select("#chart");
const L = 51.5, R = 620.5, T = 32.5, B = 446.5;
const x = d3.scaleLinear().domain([0, 23.75]).range([L, R]);
const y = d3.scaleLinear().domain([-40, 50]).range([B, T]);

svg.append("defs").append("clipPath").attr("id","clip")
  .append("rect").attr("x", L).attr("y", T).attr("width", R-L).attr("height", B-T);

const line = d3.line().x(d => x(d[0])).y(d => y(d[1]));
const g = svg.append("g").attr("clip-path","url(#clip)");

const series = [];
massData.forEach((vals, i) => {
  series.push({pts: vals.map((v, j) => [halfHours[j], v]).filter(p => p[0] !== undefined), color: C[massColors[i]]});
});
tracedData.forEach((pts, i) => series.push({pts, color: C[tracedColors[i]]}));

g.selectAll("path.s").data(series).join("path")
  .attr("class","s")
  .attr("d", d => line(d.pts))
  .attr("fill","none")
  .attr("stroke", d => d.color)
  .attr("stroke-width", 1)
  .attr("shape-rendering","crispEdges");

// axes
const ax = svg.append("g");
ax.append("g").attr("transform",`translate(0,${B})`)
  .call(d3.axisBottom(x).tickValues(xTicks).tickFormat(d3.format("d")).tickSizeInner(-5).tickSizeOuter(0).tickPadding(7.5));
ax.append("g").attr("transform",`translate(0,${T})`)
  .call(d3.axisTop(x).tickValues(xTicks).tickFormat("").tickSizeInner(-5).tickSizeOuter(0));
ax.append("g").attr("transform",`translate(${L},0)`)
  .call(d3.axisLeft(y).tickValues(yTicks).tickFormat(d3.format("d")).tickSizeInner(-5).tickSizeOuter(0).tickPadding(7.5));
ax.append("g").attr("transform",`translate(${R},0)`)
  .call(d3.axisRight(y).tickValues(yTicks).tickFormat("").tickSizeInner(-5).tickSizeOuter(0));
ax.selectAll(".domain").remove();
ax.selectAll("line").attr("stroke","#000").attr("shape-rendering","crispEdges");
ax.selectAll("text").attr("font-family",null).attr("font-size",null).attr("fill","#000");

svg.append("rect").attr("x",L).attr("y",T).attr("width",R-L).attr("height",B-T)
  .attr("fill","none").attr("stroke","#000").attr("shape-rendering","crispEdges");

svg.append("text").attr("x",(L+R)/2).attr("y",20).attr("text-anchor","middle").text(title);
svg.append("text").attr("x",(L+R)/2).attr("y",476).attr("text-anchor","middle").text(xLabel);
svg.append("text").attr("transform",`translate(15,${(T+B)/2}) rotate(-90)`).attr("text-anchor","middle").text(yLabel);
</script>
</body></html>
